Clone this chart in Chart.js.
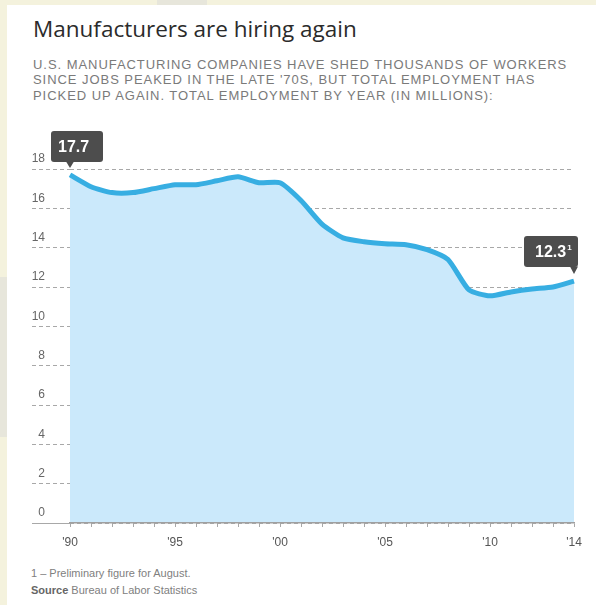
<!DOCTYPE html>
<html>
<head>
<meta charset="utf-8">
<script src="https://cdn.jsdelivr.net/npm/chart.js@4.4.1/dist/chart.umd.min.js"></script>
<style>
  html, body { margin: 0; padding: 0; }
  body { width: 596px; height: 605px; background: #f4f2dd; position: relative; overflow: hidden; }
  .strip { position: absolute; background: #e7e6db; }
  .card { position: absolute; left: 7px; top: 5px; right: 0; bottom: 0; background: #fff; }
  h1 { position: absolute; left: 33px; top: 13px; margin: 0; font: 400 22.5px "Open Sans", sans-serif; color: #2b2b2b; white-space: nowrap; }
  .sub { position: absolute; left: 33px; top: 57px; margin: 0; font: 13px "Liberation Sans", Arial, sans-serif; color: #7a7a7a; line-height: 15.3px; letter-spacing: 0.95px; white-space: nowrap; }
  .foot { position: absolute; left: 31px; top: 565px; font: 11px "Liberation Sans", Arial, sans-serif; color: #808080; line-height: 17px; white-space: nowrap; }
  .foot b { color: #666; }
  #wrap { position: absolute; left: 0; top: 120px; width: 596px; height: 440px; }
</style>
</head>
<body>
<div class="strip" style="left:0;top:277px;width:7px;height:160px"></div>
<div class="strip" style="left:157px;top:0;width:50px;height:5px"></div>
<div class="card"></div>
<h1>Manufacturers are hiring again</h1>
<p class="sub">U.S. MANUFACTURING COMPANIES HAVE SHED THOUSANDS OF WORKERS<br>SINCE JOBS PEAKED IN THE LATE '70S, BUT TOTAL EMPLOYMENT HAS<br>PICKED UP AGAIN. TOTAL EMPLOYMENT BY YEAR (IN MILLIONS):</p>
<div class="foot">1 – Preliminary figure for August.<br><b>Source</b> Bureau of Labor Statistics</div>
<div id="wrap">
  <canvas id="chart" width="596" height="440"></canvas>
</div>
<script>
// employment by year, millions
var years = [1990, 1991, 1992, 1993, 1994, 1995, 1996, 1997, 1998, 1999, 2000, 2001, 2002,
             2003, 2004, 2005, 2006, 2007, 2008, 2009, 2010, 2011, 2012, 2013, 2014];
var employment = [17.7, 17.1, 16.8, 16.8, 17.0, 17.2, 17.2, 17.4, 17.6, 17.3, 17.3, 16.4, 15.2,
                  14.5, 14.3, 14.2, 14.15, 13.9, 13.4, 11.85, 11.55, 11.75, 11.9, 12.0, 12.3];
var xTickYears = [1990, 1995, 2000, 2005, 2010, 2014];
var xTickLabels = ["'90", "'95", "'00", "'05", "'10", "'14"];
var yTickValues = [0, 2, 4, 6, 8, 10, 12, 14, 16, 18];

// label boxes over first and last point
var callouts = [
    { index: 0, sup: '', left: -19, width: 52, gap: 13, pad: 7 },
    { index: years.length - 1, sup: '1', left: -50, width: 54, gap: 14, pad: 11 }
];

var calloutPlugin = {
    id: 'callouts',
    afterDatasetsDraw(chart) {
        var ctx = chart.ctx
        var meta = chart.getDatasetMeta(0)
        callouts.forEach(c => {
            var pt = meta.data[c.index]
            var bx = pt.x + c.left
            var bh = 31
            var by = pt.y - c.gap - bh
            ctx.save()
            ctx.fillStyle = '#4d4d4d'
            ctx.beginPath()
            ctx.roundRect(bx, by, c.width, bh, 3)
            ctx.fill()
            ctx.beginPath()
            ctx.moveTo(pt.x - 4, by + bh - 0.5)
            ctx.lineTo(pt.x + 4, by + bh - 0.5)
            ctx.lineTo(pt.x, pt.y - 7)
            ctx.closePath()
            ctx.fill()
            ctx.fillStyle = '#fff'
            ctx.font = 'bold 16px "Liberation Sans", Arial, sans-serif'
            ctx.textBaseline = 'middle'
            ctx.textAlign = 'left'
            var txt = employment[c.index].toFixed(1)
            ctx.fillText(txt, bx + c.pad, by + bh / 2 + 1)
            if (c.sup) {
                var w = ctx.measureText(txt).width
                ctx.font = 'bold 8px "Liberation Sans", Arial, sans-serif'
                ctx.fillText(c.sup, bx + c.pad + w + 1, by + bh / 2 - 4)
            }
            ctx.restore()
        })
    }
};

var chart = new Chart(document.getElementById('chart'), {
    type: 'line',
    data: {
        labels: years,
        datasets: [{
            data: employment,
            borderColor: '#37aee2',
            backgroundColor: '#cbe9fb',
            borderWidth: 5,
            fill: 'origin',
            tension: 0.2,
            pointRadius: 0
        }]
    },
    options: {
        responsive: false,
        animation: false,
        events: [],
        layout: { padding: { left: 32, right: 22, top: 49, bottom: 0 } },
        plugins: { legend: { display: false }, tooltip: { enabled: false } },
        scales: {
            x: {
                type: 'category',
                offset: false,
                afterFit(scale) { scale.height = 37 },
                grid: { drawOnChartArea: false, drawTicks: true, tickLength: 4, tickColor: '#a8a8a8', tickWidth: 1 },
                border: { display: true, color: '#a0a0a0', width: 1.5, z: 1 },
                ticks: {
                    autoSkip: false,
                    maxRotation: 0,
                    padding: 8,
                    color: '#555',
                    font: { family: '"Liberation Sans", Arial, sans-serif', size: 12 },
                    callback: function (val, i) {
                        var k = xTickYears.indexOf(years[i])
                        return k >= 0 ? xTickLabels[k] : ''
                    }
                }
            },
            y: {
                min: 0,
                max: 18,
                afterFit(scale) { scale.width = 38 },
                afterBuildTicks(scale) { scale.ticks = yTickValues.map(v => ({ value: v })) },
                grid: {
                    color: '#a8a8a8',
                    lineWidth: 1,
                    tickLength: 38,
                    tickColor: '#a8a8a8',
                    tickBorderDash: ctx => ctx.tick && ctx.tick.value === 0 ? [] : [4, 3]
                },
                border: { display: false, dash: [4, 3] },
                ticks: {
                    padding: -13,
                    labelOffset: -10,
                    color: '#666',
                    font: { family: '"Liberation Sans", Arial, sans-serif', size: 12 }
                }
            }
        }
    },
    plugins: [calloutPlugin]
});
</script>
</body>
</html>
